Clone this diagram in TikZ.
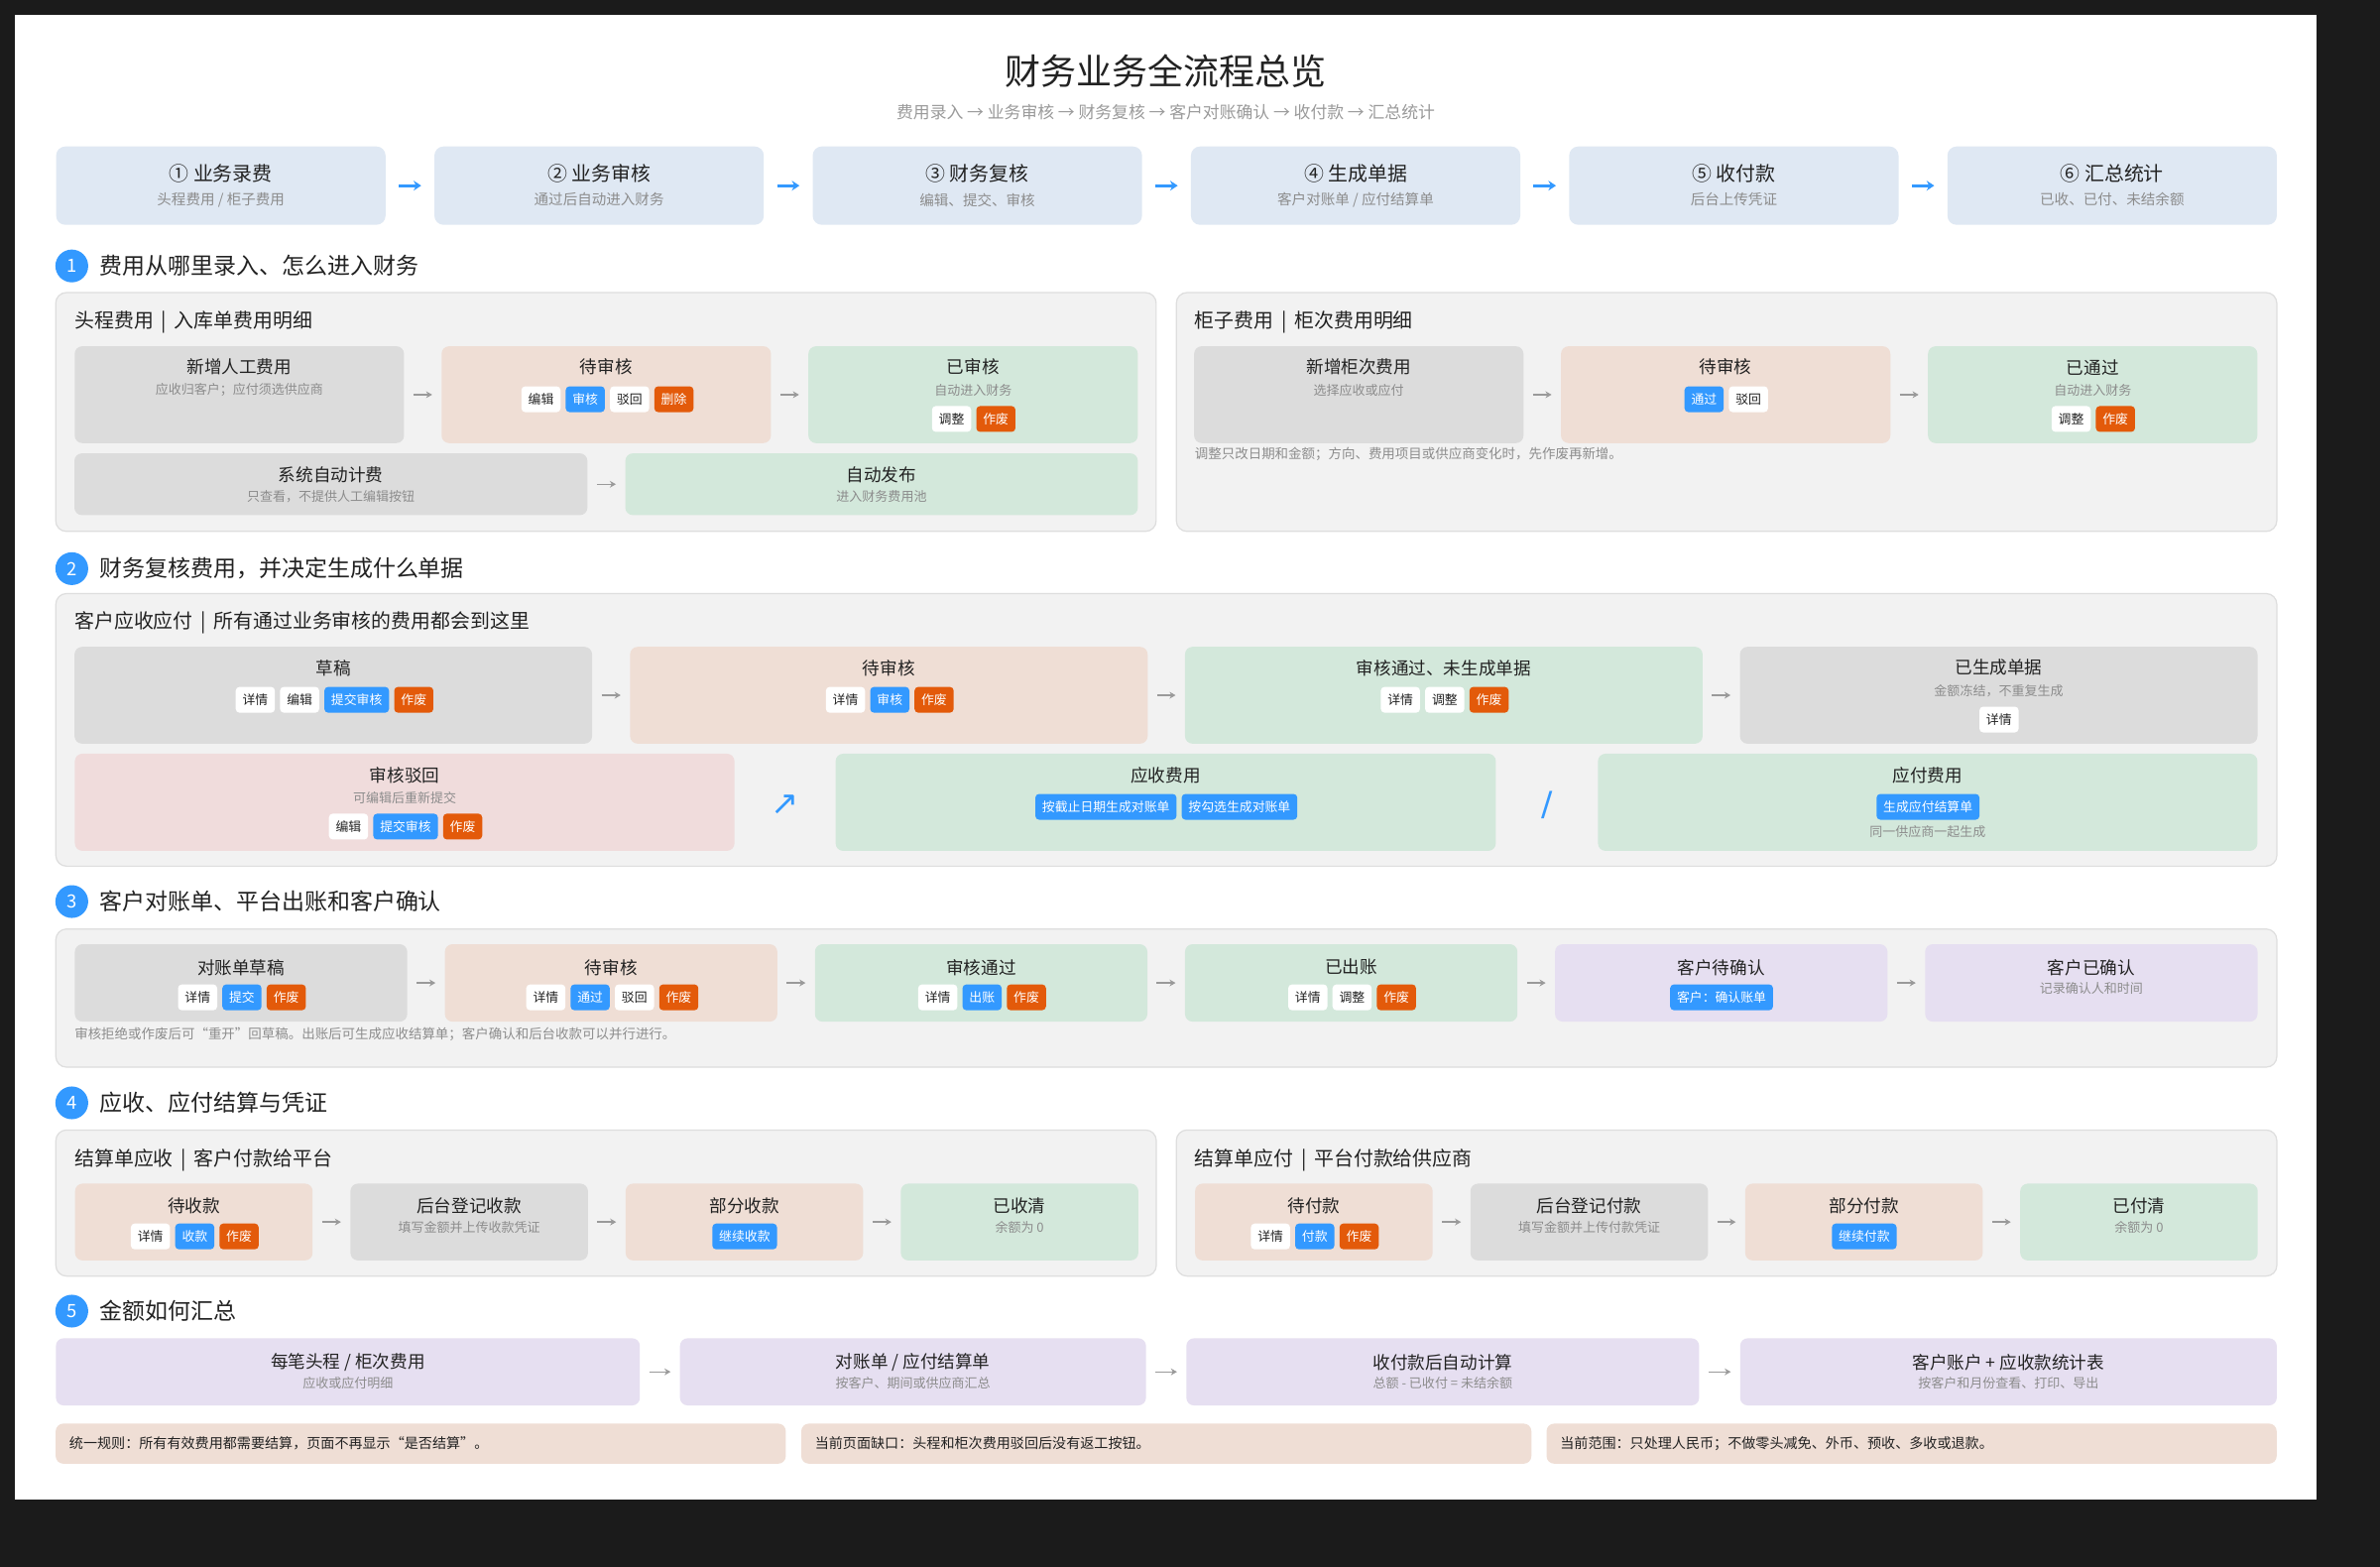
\documentclass[tikz,border=0pt]{standalone}
\usepackage{fontspec}
\setmainfont{Noto Sans CJK SC}
\newfontfamily\symfont{DejaVu Sans}
\usetikzlibrary{positioning,arrows.meta}

\definecolor{pagedark}{HTML}{1B1B1B}
\definecolor{ink}{HTML}{222222}
\definecolor{inkgrey}{HTML}{8C8C8C}
\definecolor{subgrey}{HTML}{9A9A9A}
\definecolor{topblue}{HTML}{DFE8F3}
\definecolor{panelbg}{HTML}{F2F2F2}
\definecolor{panelline}{HTML}{DEDEDE}
\definecolor{boxgrey}{HTML}{DCDCDC}
\definecolor{boxpeach}{HTML}{EFDED5}
\definecolor{boxgreen}{HTML}{D3E8DB}
\definecolor{boxpink}{HTML}{F0DCDC}
\definecolor{boxlilac}{HTML}{E6DFF1}
\definecolor{btnblue}{HTML}{3399FF}
\definecolor{btnorange}{HTML}{E35A0A}
\definecolor{arrowgrey}{HTML}{9A9A9A}

\tikzset{
	sz/.style 2 args={minimum width=#1pt, minimum height=#2pt},
	stbox/.style={rounded corners=5pt, inner sep=0pt},
	topbox/.style={stbox, fill=topblue, rounded corners=6pt},
	greybox/.style={stbox, fill=boxgrey},
	peachbox/.style={stbox, fill=boxpeach},
	greenbox/.style={stbox, fill=boxgreen},
	pinkbox/.style={stbox, fill=boxpink},
	lilacbox/.style={stbox, fill=boxlilac},
	panel/.style={draw=panelline, fill=panelbg, line width=0.8pt, rounded corners=7pt, inner sep=0pt},
	maintitle/.style={inner sep=0pt, text=ink, font=\fontsize{23.5}{28}\selectfont},
	mainsub/.style={inner sep=0pt, text=subgrey, font=\fontsize{11}{13}\selectfont},
	toptitle/.style={inner sep=0pt, text=ink, font=\fontsize{13}{15}\selectfont},
	topsub/.style={inner sep=0pt, text=inkgrey, font=\fontsize{9.5}{11}\selectfont},
	secnum/.style={circle, fill=btnblue, text=white, minimum size=21.6pt, inner sep=0pt, font=\fontsize{12}{14}\selectfont},
	sechead/.style={anchor=west, inner sep=0pt, text=ink, font=\fontsize{15}{18}\selectfont},
	ptitle/.style={anchor=west, inner sep=0pt, text=ink, font=\fontsize{13}{16}\selectfont},
	ttl/.style={inner sep=0pt, text=ink, font=\fontsize{11.5}{14}\selectfont},
	sub/.style={inner sep=0pt, text=inkgrey, font=\fontsize{8.5}{10}\selectfont},
	note/.style={anchor=west, inner sep=0pt, text=inkgrey, font=\fontsize{8.8}{10}\selectfont},
	btn/.style={anchor=west, rounded corners=2.5pt, minimum height=17pt, inner xsep=4.5pt, inner ysep=0pt, font=\fontsize{8.4}{10}\selectfont},
	btnw/.style={btn, fill=white, text=ink},
	btnb/.style={btn, fill=btnblue, text=white},
	btno/.style={btn, fill=btnorange, text=white},
	sym/.style={inner sep=0pt, text=btnblue, font=\symfont\fontsize{22}{26}\selectfont},
	rulebox/.style={fill=boxpeach, rounded corners=5pt, inner xsep=9pt, inner ysep=0pt, text width=463pt, minimum height=26.4pt, align=left, text=ink, font=\fontsize{9.2}{11}\selectfont},
	flow/.style={draw=arrowgrey, line width=0.9pt, -{Stealth[length=4pt,width=4.5pt]}, shorten <=6pt, shorten >=6pt},
	topflow/.style={draw=btnblue, line width=1.8pt, -{Stealth[length=5pt,width=6.5pt]}, shorten <=8.5pt, shorten >=8.5pt},
	node distance=3pt
}

\begin{document}
\begin{tikzpicture}[x=1pt,y=-1pt]
	\useasboundingbox (0,0) rectangle (1568,1032);
	\fill[pagedark] (0,0) rectangle (1568,1032);
	\fill[white] (10,10) rectangle (1526,988);

	\node[maintitle] (head) at (768,47) {财务业务全流程总览};
	\node[mainsub] (headsub) at (768,74) {费用录入 → 业务审核 → 财务复核 → 客户对账确认 → 收付款 → 汇总统计};

	% overview row
	\node[topbox, sz={217}{51.6}] (p1) at (145.5,122.3) {};
	\node[topbox, sz={217}{51.6}] (p2) at (394.7,122.3) {};
	\node[topbox, sz={217}{51.6}] (p3) at (643.9,122.3) {};
	\node[topbox, sz={217}{51.6}] (p4) at (893.1,122.3) {};
	\node[topbox, sz={217}{51.6}] (p5) at (1142.3,122.3) {};
	\node[topbox, sz={217}{51.6}] (p6) at (1391.5,122.3) {};
	\node[toptitle] (p1t) at ([yshift=-18.3pt]p1.north) {① 业务录费};
	\node[topsub] (p1s) at ([yshift=-35.3pt]p1.north) {头程费用 / 柜子费用};
	\node[toptitle] (p2t) at ([yshift=-18.3pt]p2.north) {② 业务审核};
	\node[topsub] (p2s) at ([yshift=-35.3pt]p2.north) {通过后自动进入财务};
	\node[toptitle] (p3t) at ([yshift=-18.3pt]p3.north) {③ 财务复核};
	\node[topsub] (p3s) at ([yshift=-35.3pt]p3.north) {编辑、提交、审核};
	\node[toptitle] (p4t) at ([yshift=-18.3pt]p4.north) {④ 生成单据};
	\node[topsub] (p4s) at ([yshift=-35.3pt]p4.north) {客户对账单 / 应付结算单};
	\node[toptitle] (p5t) at ([yshift=-18.3pt]p5.north) {⑤ 收付款};
	\node[topsub] (p5s) at ([yshift=-35.3pt]p5.north) {后台上传凭证};
	\node[toptitle] (p6t) at ([yshift=-18.3pt]p6.north) {⑥ 汇总统计};
	\node[topsub] (p6s) at ([yshift=-35.3pt]p6.north) {已收、已付、未结余额};
	\draw[topflow] (p1) -- (p2);
	\draw[topflow] (p2) -- (p3);
	\draw[topflow] (p3) -- (p4);
	\draw[topflow] (p4) -- (p5);
	\draw[topflow] (p5) -- (p6);

	% 1
	\node[secnum] (n1) at (47.3,175.2) {1};
	\node[sechead] (n1h) at (65.5,175.2) {费用从哪里录入、怎么进入财务};
	\node[panel, sz={725}{157.3}] (k1) at (399.2,271.4) {};
	\node[panel, sz={725}{157.3}] (k2) at (1137.5,271.4) {};
	\node[ptitle] (k1t) at (49,212.3) {头程费用 \,|\, 入库单费用明细};
	\node[ptitle] (k2t) at (787,212.3) {柜子费用 \,|\, 柜次费用明细};

	\node[greybox, sz={217}{63.8}] (h1) at (157.7,260) {};
	\node[peachbox, sz={217}{63.8}] (h2) at (399.4,260) {};
	\node[greenbox, sz={217}{63.8}] (h3) at (641.1,260) {};
	\node[greybox, sz={338}{40.7}] (h4) at (218,319) {};
	\node[greenbox, sz={337.7}{40.7}] (h5) at (580.8,319) {};
	\node[ttl] (h1t) at ([yshift=-14pt]h1.north) {新增人工费用};
	\node[sub] (h1s) at ([yshift=-29pt]h1.north) {应收归客户；应付须选供应商};
	\node[ttl] (h2t) at ([yshift=-14pt]h2.north) {待审核};
	\node[btnw] (h2b1) at (343.3,263) {编辑};
	\node[btnb, right=of h2b1] (h2b2) {审核};
	\node[btnw, right=of h2b2] (h2b3) {驳回};
	\node[btno, right=of h2b3] (h2b4) {删除};
	\node[ttl] (h3t) at ([yshift=-14pt]h3.north) {已审核};
	\node[sub] (h3s) at ([yshift=-29pt]h3.north) {自动进入财务};
	\node[btnw] (h3b1) at (613.8,276) {调整};
	\node[btno, right=of h3b1] (h3b2) {作废};
	\node[ttl] (h4t) at ([yshift=-14.4pt]h4.north) {系统自动计费};
	\node[sub] (h4s) at ([yshift=-28.9pt]h4.north) {只查看，不提供人工编辑按钮};
	\node[ttl] (h5t) at ([yshift=-14.4pt]h5.north) {自动发布};
	\node[sub] (h5s) at ([yshift=-28.9pt]h5.north) {进入财务费用池};
	\draw[flow] (h1) -- (h2);
	\draw[flow] (h2) -- (h3);
	\draw[flow] (h4) -- (h5);

	\node[greybox, sz={217}{63.8}] (g1) at (895.2,260) {};
	\node[peachbox, sz={217}{63.8}] (g2) at (1136.9,260) {};
	\node[greenbox, sz={217}{63.8}] (g3) at (1378.7,260) {};
	\node[ttl] (g1t) at ([yshift=-14pt]g1.north) {新增柜次费用};
	\node[sub] (g1s) at ([yshift=-29pt]g1.north) {选择应收或应付};
	\node[ttl] (g2t) at ([yshift=-14pt]g2.north) {待审核};
	\node[btnb] (g2b1) at (1109.6,263) {通过};
	\node[btnw, right=of g2b1] (g2b2) {驳回};
	\node[ttl] (g3t) at ([yshift=-14pt]g3.north) {已通过};
	\node[sub] (g3s) at ([yshift=-29pt]g3.north) {自动进入财务};
	\node[btnw] (g3b1) at (1351.4,276) {调整};
	\node[btno, right=of g3b1] (g3b2) {作废};
	\node[note] (g0n) at (787,299.3) {调整只改日期和金额；方向、费用项目或供应商变化时，先作废再新增。};
	\draw[flow] (g1) -- (g2);
	\draw[flow] (g2) -- (g3);

	% 2
	\node[secnum] (n2) at (47.3,374.6) {2};
	\node[sechead] (n2h) at (65.5,374.6) {财务复核费用，并决定生成什么单据};
	\node[panel, sz={1463.2}{179.6}] (k3) at (768.4,480.8) {};
	\node[ptitle] (k3t) at (49,410.5) {客户应收应付 \,|\, 所有通过业务审核的费用都会到这里};

	\node[greybox, sz={341}{63.8}] (c1) at (219.6,458) {};
	\node[peachbox, sz={341}{63.8}] (c2) at (585.6,458) {};
	\node[greenbox, sz={341}{63.8}] (c3) at (951.2,458) {};
	\node[greybox, sz={341}{63.8}] (c4) at (1316.8,458) {};
	\node[ttl] (c1t) at ([yshift=-14pt]c1.north) {草稿};
	\node[btnw] (c1b1) at (155.1,461) {详情};
	\node[btnw, right=of c1b1] (c1b2) {编辑};
	\node[btnb, right=of c1b2] (c1b3) {提交审核};
	\node[btno, right=of c1b3] (c1b4) {作废};
	\node[ttl] (c2t) at ([yshift=-14pt]c2.north) {待审核};
	\node[btnw] (c2b1) at (543.9,461) {详情};
	\node[btnb, right=of c2b1] (c2b2) {审核};
	\node[btno, right=of c2b2] (c2b3) {作废};
	\node[ttl] (c3t) at ([yshift=-14pt]c3.north) {审核通过、未生成单据};
	\node[btnw] (c3b1) at (909.5,461) {详情};
	\node[btnw, right=of c3b1] (c3b2) {调整};
	\node[btno, right=of c3b2] (c3b3) {作废};
	\node[ttl] (c4t) at ([yshift=-14pt]c4.north) {已生成单据};
	\node[sub] (c4s) at ([yshift=-29pt]c4.north) {金额冻结，不重复生成};
	\node[btnw] (c4b1) at (1303.9,474) {详情};
	\draw[flow] (c1) -- (c2);
	\draw[flow] (c2) -- (c3);
	\draw[flow] (c3) -- (c4);

	\node[pinkbox, sz={434.6}{64}] (c5) at (266.6,528.5) {};
	\node[greenbox, sz={435}{64}] (c6) at (768,528.5) {};
	\node[greenbox, sz={434.5}{64}] (c7) at (1270,528.5) {};
	\node[ttl] (c5t) at ([yshift=-14.5pt]c5.north) {审核驳回};
	\node[sub] (c5s) at ([yshift=-29pt]c5.north) {可编辑后重新提交};
	\node[btnw] (c5b1) at (216.5,544.5) {编辑};
	\node[btnb, right=of c5b1] (c5b2) {提交审核};
	\node[btno, right=of c5b2] (c5b3) {作废};
	\node[ttl] (c6t) at ([yshift=-14.5pt]c6.north) {应收费用};
	\node[btnb] (c6b1) at (681.9,531.5) {按截止日期生成对账单};
	\node[btnb, right=of c6b1] (c6b2) {按勾选生成对账单};
	\node[ttl] (c7t) at ([yshift=-14.5pt]c7.north) {应付费用};
	\node[btnb] (c7b1) at (1236.1,531.5) {生成应付结算单};
	\node[sub] (c7s) at ([yshift=-51.5pt]c7.north) {同一供应商一起生成};
	\node[sym] (c5up) at (517.5,530.5) {↗};
	\node[sym] (c6or) at (1019.5,530.5) {/};

	% 3
	\node[secnum] (n3) at (47.3,593.9) {3};
	\node[sechead] (n3h) at (65.5,593.9) {客户对账单、平台出账和客户确认};
	\node[panel, sz={1463.2}{91}] (k4) at (768.4,657.5) {};

	\node[greybox, sz={219}{51}] (d1) at (158.8,647.5) {};
	\node[peachbox, sz={219}{51}] (d2) at (402.6,647.5) {};
	\node[greenbox, sz={219}{51}] (d3) at (646.4,647.5) {};
	\node[greenbox, sz={219}{51}] (d4) at (890.2,647.5) {};
	\node[lilacbox, sz={219}{51}] (d5) at (1134,647.5) {};
	\node[lilacbox, sz={219}{51}] (d6) at (1377.8,647.5) {};
	\node[ttl] (d1t) at ([yshift=-15.4pt]d1.north) {对账单草稿};
	\node[btnw] (d1b1) at (117.1,657) {详情};
	\node[btnb, right=of d1b1] (d1b2) {提交};
	\node[btno, right=of d1b2] (d1b3) {作废};
	\node[ttl] (d2t) at ([yshift=-15.4pt]d2.north) {待审核};
	\node[btnw] (d2b1) at (346.5,657) {详情};
	\node[btnb, right=of d2b1] (d2b2) {通过};
	\node[btnw, right=of d2b2] (d2b3) {驳回};
	\node[btno, right=of d2b3] (d2b4) {作废};
	\node[ttl] (d3t) at ([yshift=-15.4pt]d3.north) {审核通过};
	\node[btnw] (d3b1) at (604.7,657) {详情};
	\node[btnb, right=of d3b1] (d3b2) {出账};
	\node[btno, right=of d3b2] (d3b3) {作废};
	\node[ttl] (d4t) at ([yshift=-15.4pt]d4.north) {已出账};
	\node[btnw] (d4b1) at (848.5,657) {详情};
	\node[btnw, right=of d4b1] (d4b2) {调整};
	\node[btno, right=of d4b2] (d4b3) {作废};
	\node[ttl] (d5t) at ([yshift=-15.4pt]d5.north) {客户待确认};
	\node[btnb] (d5b1) at (1100.1,657) {客户：确认账单};
	\node[ttl] (d6t) at ([yshift=-15.4pt]d6.north) {客户已确认};
	\node[sub] (d6s) at ([yshift=-29pt]d6.north) {记录确认人和时间};
	\node[note] (d0n) at (49,681) {审核拒绝或作废后可“重开”回草稿。出账后可生成应收结算单；客户确认和后台收款可以并行进行。};
	\draw[flow] (d1) -- (d2);
	\draw[flow] (d2) -- (d3);
	\draw[flow] (d3) -- (d4);
	\draw[flow] (d4) -- (d5);
	\draw[flow] (d5) -- (d6);

	% 4
	\node[secnum] (n4) at (47.3,726.5) {4};
	\node[sechead] (n4h) at (65.5,726.5) {应收、应付结算与凭证};
	\node[panel, sz={725}{96.2}] (k5) at (399.3,792.5) {};
	\node[panel, sz={725}{96.2}] (k6) at (1137.5,792.5) {};
	\node[ptitle] (k5t) at (49,764.4) {结算单应收 \,|\, 客户付款给平台};
	\node[ptitle] (k6t) at (787,764.4) {结算单应付 \,|\, 平台付款给供应商};

	\node[peachbox, sz={156.5}{50.6}] (e1) at (127.7,805) {};
	\node[greybox, sz={156.5}{50.6}] (e2) at (309.1,805) {};
	\node[peachbox, sz={156.5}{50.6}] (e3) at (490.4,805) {};
	\node[greenbox, sz={156.5}{50.6}] (e4) at (671.7,805) {};
	\node[ttl] (e1t) at ([yshift=-15pt]e1.north) {待收款};
	\node[btnw] (e1b1) at (86,814.5) {详情};
	\node[btnb, right=of e1b1] (e1b2) {收款};
	\node[btno, right=of e1b2] (e1b3) {作废};
	\node[ttl] (e2t) at ([yshift=-15pt]e2.north) {后台登记收款};
	\node[sub] (e2s) at ([yshift=-29pt]e2.north) {填写金额并上传收款凭证};
	\node[ttl] (e3t) at ([yshift=-15pt]e3.north) {部分收款};
	\node[btnb] (e3b1) at (469.1,814.5) {继续收款};
	\node[ttl] (e4t) at ([yshift=-15pt]e4.north) {已收清};
	\node[sub] (e4s) at ([yshift=-29pt]e4.north) {余额为 0};
	\draw[flow] (e1) -- (e2);
	\draw[flow] (e2) -- (e3);
	\draw[flow] (e3) -- (e4);

	\node[peachbox, sz={156.5}{50.6}] (f1) at (865.6,805) {};
	\node[greybox, sz={156.5}{50.6}] (f2) at (1047,805) {};
	\node[peachbox, sz={156.5}{50.6}] (f3) at (1228,805) {};
	\node[greenbox, sz={156.5}{50.6}] (f4) at (1409.2,805) {};
	\node[ttl] (f1t) at ([yshift=-15pt]f1.north) {待付款};
	\node[btnw] (f1b1) at (823.9,814.5) {详情};
	\node[btnb, right=of f1b1] (f1b2) {付款};
	\node[btno, right=of f1b2] (f1b3) {作废};
	\node[ttl] (f2t) at ([yshift=-15pt]f2.north) {后台登记付款};
	\node[sub] (f2s) at ([yshift=-29pt]f2.north) {填写金额并上传付款凭证};
	\node[ttl] (f3t) at ([yshift=-15pt]f3.north) {部分付款};
	\node[btnb] (f3b1) at (1206.7,814.5) {继续付款};
	\node[ttl] (f4t) at ([yshift=-15pt]f4.north) {已付清};
	\node[sub] (f4s) at ([yshift=-29pt]f4.north) {余额为 0};
	\draw[flow] (f1) -- (f2);
	\draw[flow] (f2) -- (f3);
	\draw[flow] (f3) -- (f4);

	% 5
	\node[secnum] (n5) at (47.3,863.7) {5};
	\node[sechead] (n5h) at (65.5,863.7) {金额如何汇总};
	\node[lilacbox, sz={384.7}{44.2}] (m1) at (229.2,903.7) {};
	\node[lilacbox, sz={307}{44.2}] (m2) at (601.5,903.7) {};
	\node[lilacbox, sz={337.8}{44.2}] (m3) at (950.5,903.7) {};
	\node[lilacbox, sz={353.5}{44.2}] (m4) at (1323.2,903.7) {};
	\node[ttl] (m1t) at ([yshift=-16pt]m1.north) {每笔头程 / 柜次费用};
	\node[sub] (m1s) at ([yshift=-30pt]m1.north) {应收或应付明细};
	\node[ttl] (m2t) at ([yshift=-16pt]m2.north) {对账单 / 应付结算单};
	\node[sub] (m2s) at ([yshift=-30pt]m2.north) {按客户、期间或供应商汇总};
	\node[ttl] (m3t) at ([yshift=-16pt]m3.north) {收付款后自动计算};
	\node[sub] (m3s) at ([yshift=-30pt]m3.north) {总额 - 已收付 = 未结余额};
	\node[ttl] (m4t) at ([yshift=-16pt]m4.north) {客户账户 + 应收款统计表};
	\node[sub] (m4s) at ([yshift=-30pt]m4.north) {按客户和月份查看、打印、导出};
	\draw[flow] (m1) -- (m2);
	\draw[flow] (m2) -- (m3);
	\draw[flow] (m3) -- (m4);

	\node[rulebox] (r1) at (277.2,951) {统一规则：所有有效费用都需要结算，页面不再显示“是否结算”。};
	\node[rulebox] (r2) at (768.4,951) {当前页面缺口：头程和柜次费用驳回后没有返工按钮。};
	\node[rulebox] (r3) at (1259.4,951) {当前范围：只处理人民币；不做零头减免、外币、预收、多收或退款。};
\end{tikzpicture}
\end{document}
